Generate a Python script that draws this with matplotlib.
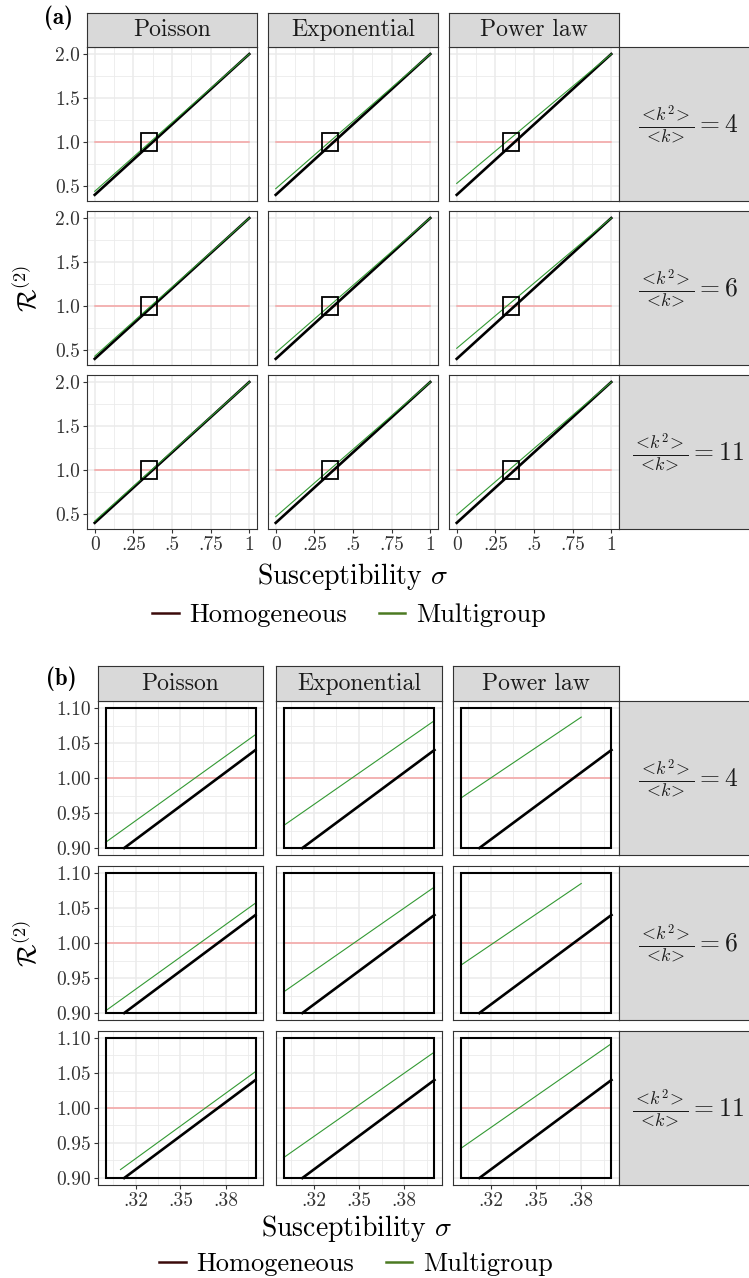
import numpy as np
import matplotlib.pyplot as plt
from matplotlib.lines import Line2D
from matplotlib.patches import Rectangle

plt.rcParams['font.family'] = 'serif'
plt.rcParams['font.serif'] = ['cmr10']
plt.rcParams['mathtext.fontset'] = 'cm'
plt.rcParams['axes.unicode_minus'] = False
plt.rcParams['axes.formatter.use_mathtext'] = True

W, H = 749, 1278

# facets
distributions = ['Poisson', 'Exponential', 'Power law']
ratios = [4, 6, 11]

# panel (a): whole range of sigma
sigma_a = [0.0, 1.0]
homog_a = [0.40, 2.00]
multi_a_start = [[0.44, 0.47, 0.53],
                 [0.43, 0.47, 0.52],
                 [0.42, 0.47, 0.49]]
multi_a_end = [[2.00, 2.00, 2.00],
               [2.00, 2.00, 2.00],
               [2.00, 2.00, 2.00]]

# panel (b): zoom around the threshold
homog_b_sigma = [0.3125, 0.40]
homog_b = [0.90, 1.04]
multi_b_sigma_start = [[0.30, 0.30, 0.30],
                       [0.30, 0.30, 0.30],
                       [0.31, 0.30, 0.30]]
multi_b_start = [[0.908, 0.932, 0.971],
                 [0.903, 0.930, 0.968],
                 [0.912, 0.929, 0.942]]
multi_b_sigma_end = [[0.40, 0.40, 0.38],
                     [0.40, 0.40, 0.38],
                     [0.40, 0.40, 0.40]]
multi_b_end = [[1.062, 1.082, 1.087],
               [1.057, 1.080, 1.085],
               [1.052, 1.080, 1.092]]

zoom_sigma = [0.30, 0.40]
zoom_R = [0.90, 1.10]
threshold = 1.0

C_HOM = 'black'
C_MULTI = '#339933'
C_THR = '#F5A3A3'
C_STRIP = '#D9D9D9'
C_EDGE = '#333333'
C_GRID = '#EBEBEB'

fig = plt.figure(figsize=(W / 100, H / 100), dpi=100)


def add_ax(x0, y0, x1, y1):
    return fig.add_axes([x0 / W, 1 - y1 / H, (x1 - x0) / W, (y1 - y0) / H])


def strip(x0, y0, x1, y1, label, size):
    s = add_ax(x0, y0, x1, y1)
    s.set_facecolor(C_STRIP)
    s.set_xticks([])
    s.set_yticks([])
    for sp in s.spines.values():
        sp.set_color(C_EDGE)
        sp.set_linewidth(0.8)
    s.text(0.5, 0.5, label, ha='center', va='center', fontsize=size,
           color='#1A1A1A', transform=s.transAxes)
    return s


def facet(cols, rows, strip_y, xlim, ylim, xt, xtl, xmin, yt, ytl, ymin, draw):
    for i, (ry0, ry1) in enumerate(rows):
        for j, (cx0, cx1) in enumerate(cols):
            ax = add_ax(cx0, ry0, cx1, ry1)
            ax.set_xlim(xlim)
            ax.set_ylim(ylim)
            ax.set_xticks(xt)
            ax.set_xticks(xmin, minor=True)
            ax.set_yticks(yt)
            ax.set_yticks(ymin, minor=True)
            ax.grid(which='major', color=C_GRID, lw=1.1, zorder=0)
            ax.grid(which='minor', color=C_GRID, lw=0.6, zorder=0)
            ax.set_axisbelow(True)
            ax.tick_params(which='minor', length=0)
            ax.tick_params(which='major', length=3.2, width=0.8, color=C_EDGE,
                           labelcolor='#333333', labelsize=14, pad=2)
            if i == len(rows) - 1:
                ax.set_xticklabels(xtl)
            else:
                ax.tick_params(axis='x', length=0, labelbottom=False)
            if j == 0:
                ax.set_yticklabels(ytl)
            else:
                ax.tick_params(axis='y', length=0, labelleft=False)
            for sp in ax.spines.values():
                sp.set_color(C_EDGE)
                sp.set_linewidth(0.8)
            draw(ax, i, j)
            if i == 0:
                strip(cx0, strip_y[0], cx1, strip_y[1], distributions[j], 17)
        strip(cols[-1][1], ry0, 757, ry1,
              r'$\frac{<\!k^2\!>}{<\!k\!>} = %d$' % ratios[i], 18.5)


def draw_a(ax, i, j):
    ax.plot(sigma_a, [threshold, threshold], color=C_THR, lw=1.1, zorder=2)
    ax.plot(sigma_a, homog_a, color=C_HOM, lw=1.9, zorder=3)
    ax.plot(sigma_a, [multi_a_start[i][j], multi_a_end[i][j]],
            color=C_MULTI, lw=0.8, zorder=4)
    ax.add_patch(Rectangle((zoom_sigma[0], zoom_R[0]),
                           zoom_sigma[1] - zoom_sigma[0], zoom_R[1] - zoom_R[0],
                           fill=False, ec='black', lw=1.3, zorder=5))


def draw_b(ax, i, j):
    ax.plot(zoom_sigma, [threshold, threshold], color=C_THR, lw=1.1, zorder=2)
    ax.plot(homog_b_sigma, homog_b, color=C_HOM, lw=1.9, zorder=3)
    ax.plot([multi_b_sigma_start[i][j], multi_b_sigma_end[i][j]],
            [multi_b_start[i][j], multi_b_end[i][j]],
            color=C_MULTI, lw=0.8, zorder=4)
    ax.add_patch(Rectangle((zoom_sigma[0], zoom_R[0]),
                           zoom_sigma[1] - zoom_sigma[0], zoom_R[1] - zoom_R[0],
                           fill=False, ec='black', lw=1.5, zorder=5))


# (a)
facet([(87, 257), (268, 438), (449, 619)],
      [(47, 201), (211, 365), (375, 529)], (13, 47),
      (-0.05, 1.05), (0.33, 2.08),
      [0, 0.25, 0.5, 0.75, 1], ['0', '.25', '.5', '.75', '1'],
      [0.125, 0.375, 0.625, 0.875],
      [0.5, 1.0, 1.5, 2.0], ['0.5', '1.0', '1.5', '2.0'],
      [0.75, 1.25, 1.75], draw_a)

# (b)
facet([(98, 263), (276, 442), (453, 619)],
      [(701, 855), (866, 1020), (1031, 1185)], (666, 701),
      (0.295, 0.405), (0.89, 1.11),
      [0.32, 0.35, 0.38], ['.32', '.35', '.38'],
      [0.305, 0.335, 0.365, 0.395],
      [0.90, 0.95, 1.00, 1.05, 1.10], ['0.90', '0.95', '1.00', '1.05', '1.10'],
      [0.925, 0.975, 1.025, 1.075], draw_b)

# titles, tags and legends
for yc, xc, ylab, tag_xy, tag in [(288, 353, 576, (44, 18), '(a)'),
                                  (943, 357, 1229, (46, 679), '(b)')]:
    fig.text(27 / W, 1 - yc / H, r'$\mathcal{R}^{(2)}$', rotation=90,
             ha='center', va='center', fontsize=19)
    fig.text(xc / W, 1 - ylab / H, r'Susceptibility $\sigma$',
             ha='center', va='center', fontsize=20)
    fig.text(tag_xy[0] / W, 1 - tag_xy[1] / H, tag, ha='left', va='center',
             fontsize=16.5, fontfamily='cmb10')

handles = [Line2D([], [], color='#3B0A0A', lw=1.8),
           Line2D([], [], color='#4C7A22', lw=1.8)]
labels = ['Homogeneous', 'Multigroup']
for xc, yc in [(349, 615), (356, 1264)]:
    fig.legend(handles, labels, loc='center', bbox_to_anchor=(xc / W, 1 - yc / H),
               ncol=2, frameon=False, fontsize=19, handlelength=1.0,
               handletextpad=0.4, columnspacing=1.2)

fig.savefig('out.png', dpi=100)
